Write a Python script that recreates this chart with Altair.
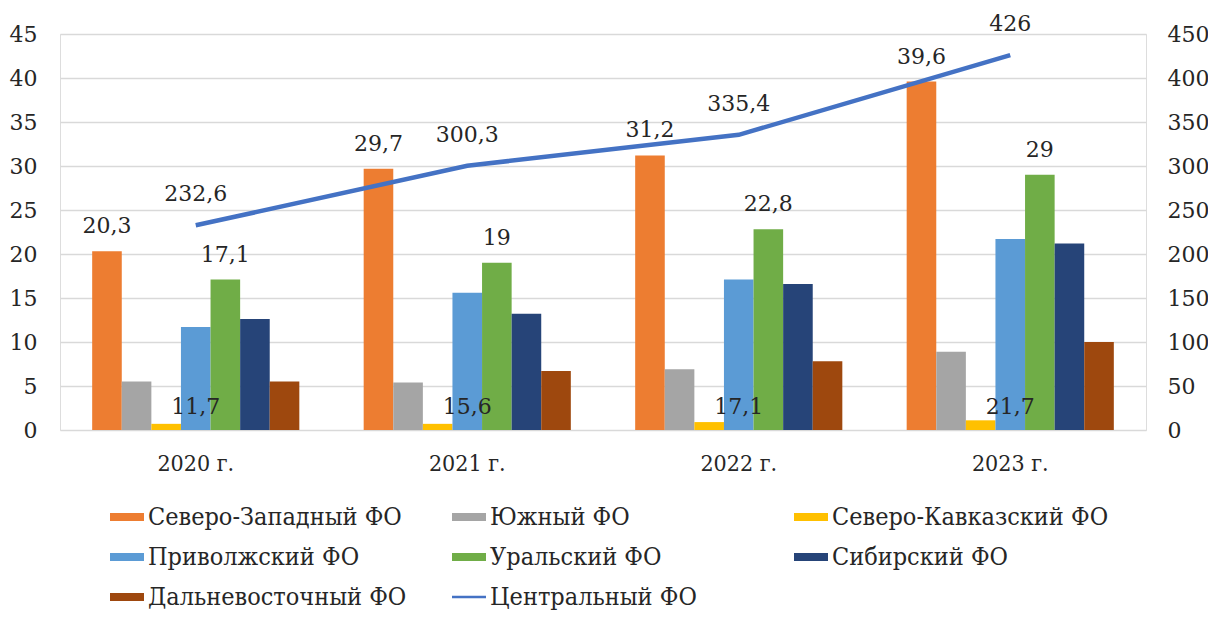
import altair as alt
import pandas as pd

years = ["2020 г.", "2021 г.", "2022 г.", "2023 г."]
bar_regions = ["Северо-Западный ФО", "Южный ФО", "Северо-Кавказский ФО",
               "Приволжский ФО", "Уральский ФО", "Сибирский ФО", "Дальневосточный ФО"]
line_region = "Центральный ФО"

nw = [20.3, 29.7, 31.2, 39.6]
south = [5.5, 5.4, 6.9, 8.9]
ncauc = [0.7, 0.7, 0.9, 1.1]
volga = [11.7, 15.6, 17.1, 21.7]
ural = [17.1, 19.0, 22.8, 29.0]
siber = [12.6, 13.2, 16.6, 21.2]
fareast = [5.5, 6.7, 7.8, 10.0]
central = [232.6, 300.3, 335.4, 426]

colors = ["#ED7D31", "#A5A5A5", "#FFC000", "#5B9BD5", "#70AD47", "#264478", "#9E480E", "#4472C4"]

def fmt(v):
    return f"{v:g}".replace(".", ",")

series = [nw, south, ncauc, volga, ural, siber, fareast]
rows = []
for reg, vals in zip(bar_regions, series):
    for y, v in zip(years, vals):
        rows.append({"year": y, "region": reg, "value": v, "label": fmt(v)})
bars_df = pd.DataFrame(rows)
line_df = pd.DataFrame({"year": years, "value": central, "label": [fmt(v) for v in central]})

FONT = "DejaVu Serif"
LFONT = "DejaVu Serif Condensed"
FS = 22
TXT = "#262626"

xenc = alt.X("year:N", sort=years, title=None,
             scale=alt.Scale(paddingInner=0.237, paddingOuter=0.1185),
             axis=alt.Axis(labelFontSize=23, labelFont=LFONT, labelColor=TXT, labelAngle=0,
                           ticks=False, domain=False, labelPadding=22))
xoff = alt.XOffset("region:N", sort=bar_regions, scale=alt.Scale(domain=bar_regions, paddingInner=0, paddingOuter=0))
yleft = alt.Y("value:Q", title=None,
              scale=alt.Scale(domain=[0, 45]),
              axis=alt.Axis(values=list(range(0, 46, 5)), labelFontSize=FS, labelFont=FONT,
                            labelColor=TXT, ticks=False, domain=False, labelPadding=23,
                            grid=True, gridColor="#D9D9D9", gridWidth=1.3))

shape_expr = ("datum.value === 'Центральный ФО' ? 'M-1,-0.07H1V0.07H-1Z' : "
              "'M-1,-0.235H1V0.235H-1Z'")

legend = alt.Legend(
    title=None, orient="none", legendX=50, legendY=466, columns=3, direction="horizontal",
    gridAlign="all", labelFont=LFONT, labelFontSize=25, labelColor=TXT, labelLimit=500,
    symbolSize=1156, symbolType=alt.ExprRef(expr=shape_expr), labelOffset=4,
    symbolStrokeWidth=0, symbolOpacity=1,
    rowPadding=10, columnPadding=27)

bars = alt.Chart(bars_df).mark_bar().encode(
    x=xenc, xOffset=xoff, y=yleft,
    color=alt.Color("region:N", scale=alt.Scale(domain=bar_regions + [line_region], range=colors),
                    legend=legend))

top_labels = alt.Chart(bars_df).transform_filter(
    alt.FieldOneOfPredicate(field="region", oneOf=["Северо-Западный ФО", "Уральский ФО"])
).mark_text(font=FONT, fontSize=FS, color=TXT, baseline="middle", dy=-25).encode(
    x=alt.X("year:N", sort=years), xOffset=xoff, y=alt.Y("value:Q"), text="label:N")

low_labels = alt.Chart(bars_df).transform_filter(
    alt.FieldEqualPredicate(field="region", equal="Приволжский ФО")
).mark_text(font=FONT, fontSize=FS, color=TXT, baseline="middle").encode(
    x=alt.X("year:N", sort=years), y=alt.datum(2.65), text="label:N")

left = alt.layer(bars, top_labels, low_labels)

yright = alt.Y("value:Q", title=None, scale=alt.Scale(domain=[0, 450]),
               axis=alt.Axis(orient="right", values=list(range(0, 451, 50)), labelFontSize=FS,
                             labelFont=FONT, labelColor=TXT, ticks=False, domain=False,
                             labelPadding=21, grid=False))

line = alt.Chart(line_df).mark_line(color="#4472C4", strokeWidth=4.5).encode(
    x=alt.X("year:N", sort=years), y=yright)
line_labels = alt.Chart(line_df).mark_text(font=FONT, fontSize=FS, color=TXT, baseline="middle", dy=-31).encode(
    x=alt.X("year:N", sort=years), y=alt.Y("value:Q"), text="label:N")
right = alt.layer(line, line_labels)

chart = alt.layer(left, right).resolve_scale(y="independent").properties(
    width=1086, height=396,
    autosize=alt.AutoSizeParams(type="none"),
    padding={"left": 52, "top": 26, "right": 62, "bottom": 184},
).configure_view(stroke=None).configure(background="white")

chart.save("out.html", embed_options={"renderer": "svg", "actions": False})
